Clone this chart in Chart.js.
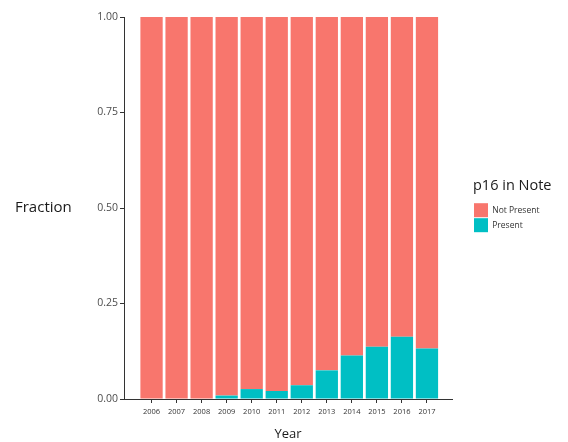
<!DOCTYPE html>
<html>
<head>
<meta charset="utf-8">
<script src="https://cdn.jsdelivr.net/npm/chart.js@4/dist/chart.umd.min.js"></script>
<style>
  html, body { margin: 0; padding: 0; background: #fff; }
  #wrap { width: 568px; height: 442px; }
</style>
</head>
<body>
<div id="wrap"><canvas id="chart" width="568" height="442"></canvas></div>
<script>
// p16 mention in notes, fraction per year (stacked to 1)
const years = ['2006', '2007', '2008', '2009', '2010', '2011', '2012', '2013', '2014', '2015', '2016', '2017'];
const present = [0, 0, 0, 0.009, 0.026, 0.021, 0.036, 0.075, 0.114, 0.137, 0.163, 0.132];
const notPresent = [1, 1, 1, 0.991, 0.974, 0.979, 0.964, 0.925, 0.886, 0.863, 0.837, 0.868];
const yTicks = [0, 0.25, 0.5, 0.75, 1];

const FONT = "'Open Sans', 'Noto Sans', sans-serif";
const AXIS = '#333333';

// legend sits right of the panel, title + keys stacked like ggplot
const layoutTweaks = {
  id: 'layoutTweaks',
  afterLayout(chart) {
    const lg = chart.legend;
    if (!lg) return;
    lg.left = 473;
    lg.right = 568; // legend clips to its box, keep the title whole
    lg.top = 15;
    lg.bottom = 397;
  },
  afterDraw(chart) {
    // horizontal y-axis title like the original
    const ctx = chart.ctx;
    const y = chart.scales.y.getPixelForValue(0.5);
    ctx.save();
    ctx.font = `15px ${FONT}`;
    ctx.fillStyle = '#1a1a1a';
    ctx.textAlign = 'left';
    ctx.textBaseline = 'middle';
    ctx.fillText('Fraction', 15, y);
    ctx.restore();
  },
};

new Chart(document.getElementById('chart'), {
  type: 'bar',
  data: {
    labels: years,
    datasets: [
      {label: 'Present', data: present, backgroundColor: '#00BFC4', borderWidth: 0},
      {label: 'Not Present', data: notPresent, backgroundColor: '#F8766D', borderWidth: 0},
    ],
  },
  options: {
    responsive: false,
    animation: false,
    barPercentage: 0.89,
    categoryPercentage: 1,
    layout: {padding: {left: 0, right: 116, top: 17, bottom: 0}},
    scales: {
      x: {
        type: 'linear',
        stacked: true,
        offset: false,
        min: 2004.9,
        max: 2018.0,
        afterBuildTicks: (axis) => {
          axis.ticks = years.map((y) => ({value: Number(y)}));
        },
        afterFit: (axis) => { axis.height = 43; },
        ticks: {
          autoSkip: false,
          maxRotation: 0,
          padding: 4,
          color: '#333',
          font: {size: 7.5, family: FONT},
          callback: (v) => String(v),
        },
        grid: {drawOnChartArea: false, offset: false, tickLength: 4, color: AXIS},
        border: {display: true, color: AXIS, width: 1},
        title: {
          display: true,
          text: 'Year',
          color: '#1a1a1a',
          font: {size: 13, family: FONT},
          padding: {top: 4, bottom: 0},
        },
      },
      y: {
        stacked: true,
        min: 0,
        max: 1,
        afterBuildTicks: (axis) => {
          axis.ticks = yTicks.map((v) => ({value: v}));
        },
        afterFit: (axis) => { axis.width = 124; },
        ticks: {
          padding: 2,
          color: '#4d4d4d',
          font: {size: 10.5, family: FONT},
          callback: (v) => Number(v).toFixed(2),
        },
        grid: {drawOnChartArea: false, tickLength: 4, color: AXIS},
        border: {display: true, color: AXIS, width: 1},
      },
    },
    plugins: {
      tooltip: {enabled: false},
      legend: {
        position: 'chartArea',
        reverse: true,
        align: 'center',
        title: {
          display: true,
          text: 'p16 in Note',
          position: 'start',
          color: '#1a1a1a',
          font: {size: 14.5, family: FONT},
          padding: {top: 0, bottom: 6},
        },
        labels: {
          boxWidth: 14,
          boxHeight: 14,
          padding: 1,
          color: '#333',
          font: {size: 8.5, family: FONT},
        },
      },
    },
  },
  plugins: [layoutTweaks],
});
</script>
</body>
</html>
